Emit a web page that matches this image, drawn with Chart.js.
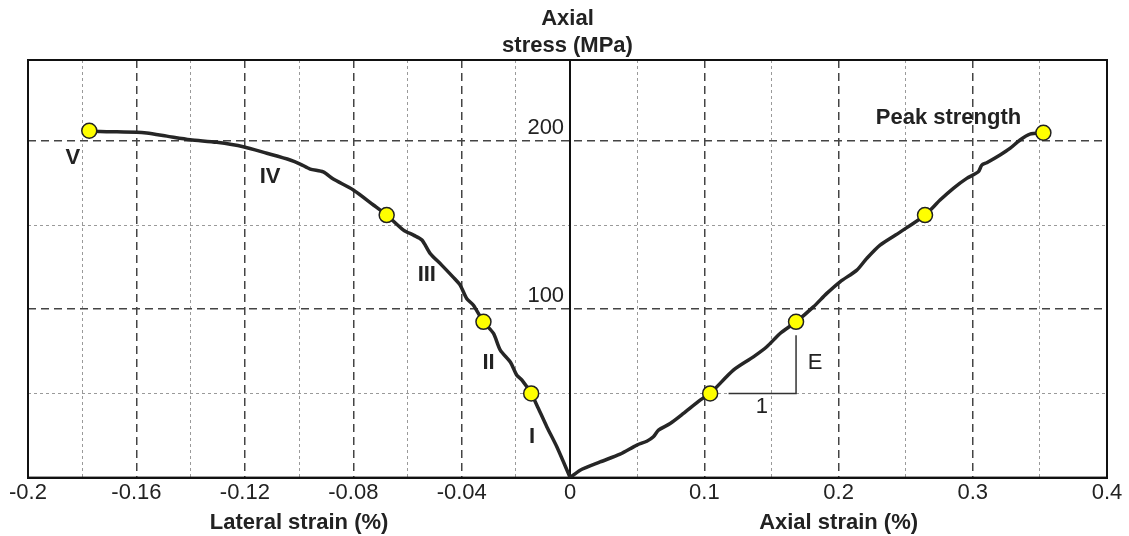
<!DOCTYPE html>
<html>
<head>
<meta charset="utf-8">
<script src="https://cdn.jsdelivr.net/npm/chart.js@4"></script>
<style>
  html, body { margin: 0; padding: 0; background: #fff; }
  #wrap { width: 1129px; height: 536px; }
</style>
</head>
<body>
<div id="wrap"><canvas id="chart" width="1129" height="536"></canvas></div>
<script>
// Lateral branch (left half): strain in %, stress in MPa
const lateralStrain = [0, -0.0049, -0.0086, -0.0123, -0.0144, -0.0178, -0.0197, -0.0221, -0.0258, -0.0283,
  -0.0320, -0.0357, -0.0382, -0.0406, -0.0431, -0.0474, -0.0517, -0.0547, -0.0578, -0.0615,
  -0.0677, -0.0726, -0.0800, -0.0874, -0.0911, -0.0959, -0.0996, -0.1033, -0.1119, -0.1206,
  -0.1304, -0.1402, -0.1488, -0.1562, -0.1599, -0.1734, -0.1774]
const lateralStress = [0, 18.2, 30.1, 43.0, 50.0, 57.9, 60.8, 68.7, 75.7, 85.6,
  92.5, 102.4, 106.4, 114.3, 118.9, 126.2, 133.2, 141.1, 144.0, 147.0,
  155.9, 161.9, 170.8, 177.3, 181.5, 183.2, 186.2, 188.6, 192.6, 196.5,
  199.1, 200.7, 202.8, 204.6, 205.1, 205.6, 206.0]

// Axial branch (right half)
const axialStrain = [0, 0.0074, 0.0223, 0.0372, 0.0497, 0.0571, 0.0620, 0.0658, 0.0745, 0.0844,
  0.0968, 0.1043, 0.1216, 0.1365, 0.1465, 0.1564, 0.1683, 0.1812, 0.1912, 0.2011,
  0.2136, 0.2210, 0.2309, 0.2458, 0.2644, 0.2756, 0.2855, 0.2955, 0.3041, 0.3067,
  0.3104, 0.3203, 0.3277, 0.3352, 0.3426, 0.3526]
const axialStress = [0, 4.4, 9.3, 13.9, 19.3, 21.6, 24.2, 28.2, 32.1, 38.1,
  46.0, 50.0, 63.8, 71.7, 77.7, 85.6, 92.5, 101.4, 109.4, 116.3,
  123.2, 130.2, 138.1, 145.8, 155.9, 164.8, 171.8, 177.7, 181.6, 185.6,
  187.0, 191.6, 195.5, 200.5, 204.0, 204.8]

// stage boundary points
const lateralMarkStrain = [-0.0144, -0.0320, -0.0677, -0.1774]
const lateralMarkStress = [50.0, 92.5, 155.9, 206.0]
const axialMarkStrain = [0.1043, 0.1683, 0.2644, 0.3526]
const axialMarkStress = [50.0, 92.5, 155.9, 204.8]

// slope triangle for E
const slopeStrain = [0.118, 0.1683, 0.1683]
const slopeStress = [50, 50, 84.5]

// ticks
const lateralTicks = [-0.2, -0.18, -0.16, -0.14, -0.12, -0.1, -0.08, -0.06, -0.04, -0.02, 0]
const lateralLabels = [-0.2, -0.16, -0.12, -0.08, -0.04, 0]
const lateralMajor = [-0.16, -0.12, -0.08, -0.04]
const axialTicks = [0, 0.05, 0.1, 0.15, 0.2, 0.25, 0.3, 0.35, 0.4]
const axialLabels = [0.1, 0.2, 0.3, 0.4]
const axialMajor = [0.1, 0.2, 0.3]
const stressTicks = [0, 50, 100, 150, 200]
const stressLabels = [100, 200]
const stressMajor = [100, 200]

// text annotations (data coordinates)
const stageNames = ['I', 'II', 'III', 'IV', 'V']
const stageStrain = [-0.0141, -0.0301, -0.0529, -0.1107, -0.1835]
const stageStress = [24.2, 68.2, 120.3, 178.7, 189.6]
const peakLabel = { text: 'Peak strength', strain: 0.2819, stress: 213.4 }
const slopeLabels = [
  { text: 'E', strain: 0.1825, stress: 68.0 },
  { text: '1', strain: 0.1428, stress: 42.0 }
]

const FONT = "'Liberation Sans', Arial, sans-serif"
const INK = '#222'

const pts = (xs, ys) => xs.map((x, i) => ({ x, y: ys[i] }))
const has = (arr, v) => arr.some(a => Math.abs(a - v) < 1e-9)

function gridStyle(major, ends) {
  return {
    grid: {
      drawTicks: false,
      color: (c) => {
        if (!c.tick) return 'transparent'
        const v = c.tick.value
        if (has(ends, v)) return 'transparent'
        return has(major, v) ? '#444' : '#9a9a9a'
      },
      lineWidth: (c) => (c.tick && has(major, c.tick.value)) ? 1.5 : 1
    },
    dash: (c) => {
      if (!c.tick) return []
      return has(major, c.tick.value) ? [8, 5] : [3, 3]
    }
  }
}

const gl = gridStyle(lateralMajor, [-0.2, 0])
const ga = gridStyle(axialMajor, [0, 0.4])
const gy = gridStyle(stressMajor, [0])

const frame = {
  id: 'frame',
  beforeDatasetsDraw(chart) {
    const { ctx, chartArea: a } = chart
    ctx.save()
    ctx.strokeStyle = '#111'
    ctx.lineWidth = 2
    ctx.strokeRect(a.left, a.top, a.right - a.left, a.bottom - a.top)
    ctx.restore()
  }
}

const annotate = {
  id: 'annotate',
  afterDatasetsDraw(chart) {
    const { ctx, scales, chartArea } = chart
    const xl = scales.xl, xa = scales.xa, y = scales.y
    ctx.save()
    ctx.fillStyle = INK
    ctx.textAlign = 'center'
    ctx.textBaseline = 'middle'
    ctx.font = 'bold 22px ' + FONT
    stageNames.forEach((t, i) => {
      ctx.fillText(t, xl.getPixelForValue(stageStrain[i]), y.getPixelForValue(stageStress[i]))
    })
    ctx.fillText(peakLabel.text, xa.getPixelForValue(peakLabel.strain), y.getPixelForValue(peakLabel.stress))
    ctx.font = '22px ' + FONT
    slopeLabels.forEach(l => {
      ctx.fillText(l.text, xa.getPixelForValue(l.strain), y.getPixelForValue(l.stress))
    })
    // axis titles, centred under each half
    ctx.font = 'bold 22px ' + FONT
    const ty = chartArea.bottom + 45
    ctx.fillText('Lateral strain (%)', xl.getPixelForValue(-0.1), ty)
    ctx.fillText('Axial strain (%)', xa.getPixelForValue(0.2), ty)
    ctx.restore()
  }
}

new Chart(document.getElementById('chart'), {
  type: 'scatter',
  data: {
    datasets: [
      {
        data: pts(lateralMarkStrain, lateralMarkStress),
        xAxisID: 'xl',
        showLine: false,
        pointRadius: 7.5,
        pointBackgroundColor: '#ffff00',
        pointBorderColor: '#222',
        pointBorderWidth: 1.5
      },
      {
        data: pts(axialMarkStrain, axialMarkStress),
        xAxisID: 'xa',
        showLine: false,
        pointRadius: 7.5,
        pointBackgroundColor: '#ffff00',
        pointBorderColor: '#222',
        pointBorderWidth: 1.5
      },
      {
        data: pts(lateralStrain, lateralStress),
        xAxisID: 'xl',
        showLine: true,
        borderColor: '#262626',
        borderWidth: 3.5,
        pointRadius: 0,
        tension: 0.25
      },
      {
        data: pts(axialStrain, axialStress),
        xAxisID: 'xa',
        showLine: true,
        borderColor: '#262626',
        borderWidth: 3.5,
        pointRadius: 0,
        tension: 0.25
      },
      {
        data: pts(slopeStrain, slopeStress),
        xAxisID: 'xa',
        showLine: true,
        borderColor: '#333',
        borderWidth: 1.5,
        pointRadius: 0,
        tension: 0
      }
    ]
  },
  options: {
    responsive: false,
    animation: false,
    events: [],
    layout: { padding: { left: 28, right: 22, top: 0, bottom: 28 } },
    plugins: {
      legend: { display: false },
      tooltip: { enabled: false },
      title: {
        display: true,
        text: ['Axial', 'stress (MPa)'],
        color: INK,
        font: { family: FONT, size: 22, weight: 'bold', lineHeight: 1.25 },
        padding: { top: 5, bottom: 0 }
      }
    },
    scales: {
      xl: {
        type: 'linear',
        axis: 'x',
        position: 'bottom',
        min: -0.2,
        max: 0.198,
        afterBuildTicks: s => { s.ticks = lateralTicks.map(v => ({ value: v })) },
        grid: gl.grid,
        border: { display: true, color: '#111', width: 2, dash: gl.dash },
        ticks: {
          autoSkip: false,
          maxRotation: 0,
          padding: 2,
          color: INK,
          font: { family: FONT, size: 22 },
          callback: v => has(lateralLabels, v) ? String(v) : ''
        }
      },
      xa: {
        type: 'linear',
        axis: 'x',
        position: { y: 0 },
        min: -0.404,
        max: 0.4,
        afterBuildTicks: s => { s.ticks = axialTicks.map(v => ({ value: v })) },
        grid: ga.grid,
        border: { display: false, dash: ga.dash },
        ticks: {
          autoSkip: false,
          maxRotation: 0,
          padding: 2,
          color: INK,
          font: { family: FONT, size: 22 },
          callback: v => has(axialLabels, v) ? String(v) : ''
        }
      },
      y: {
        type: 'linear',
        axis: 'y',
        position: { xl: 0 },
        min: 0,
        max: 248,
        afterBuildTicks: s => { s.ticks = stressTicks.map(v => ({ value: v })) },
        grid: gy.grid,
        border: { display: true, color: '#111', width: 2, dash: gy.dash },
        ticks: {
          autoSkip: false,
          labelOffset: -13,
          color: INK,
          font: { family: FONT, size: 22 },
          callback: v => has(stressLabels, v) ? String(v) + ' ' : ''
        }
      }
    }
  },
  plugins: [frame, annotate]
})
</script>
</body>
</html>
